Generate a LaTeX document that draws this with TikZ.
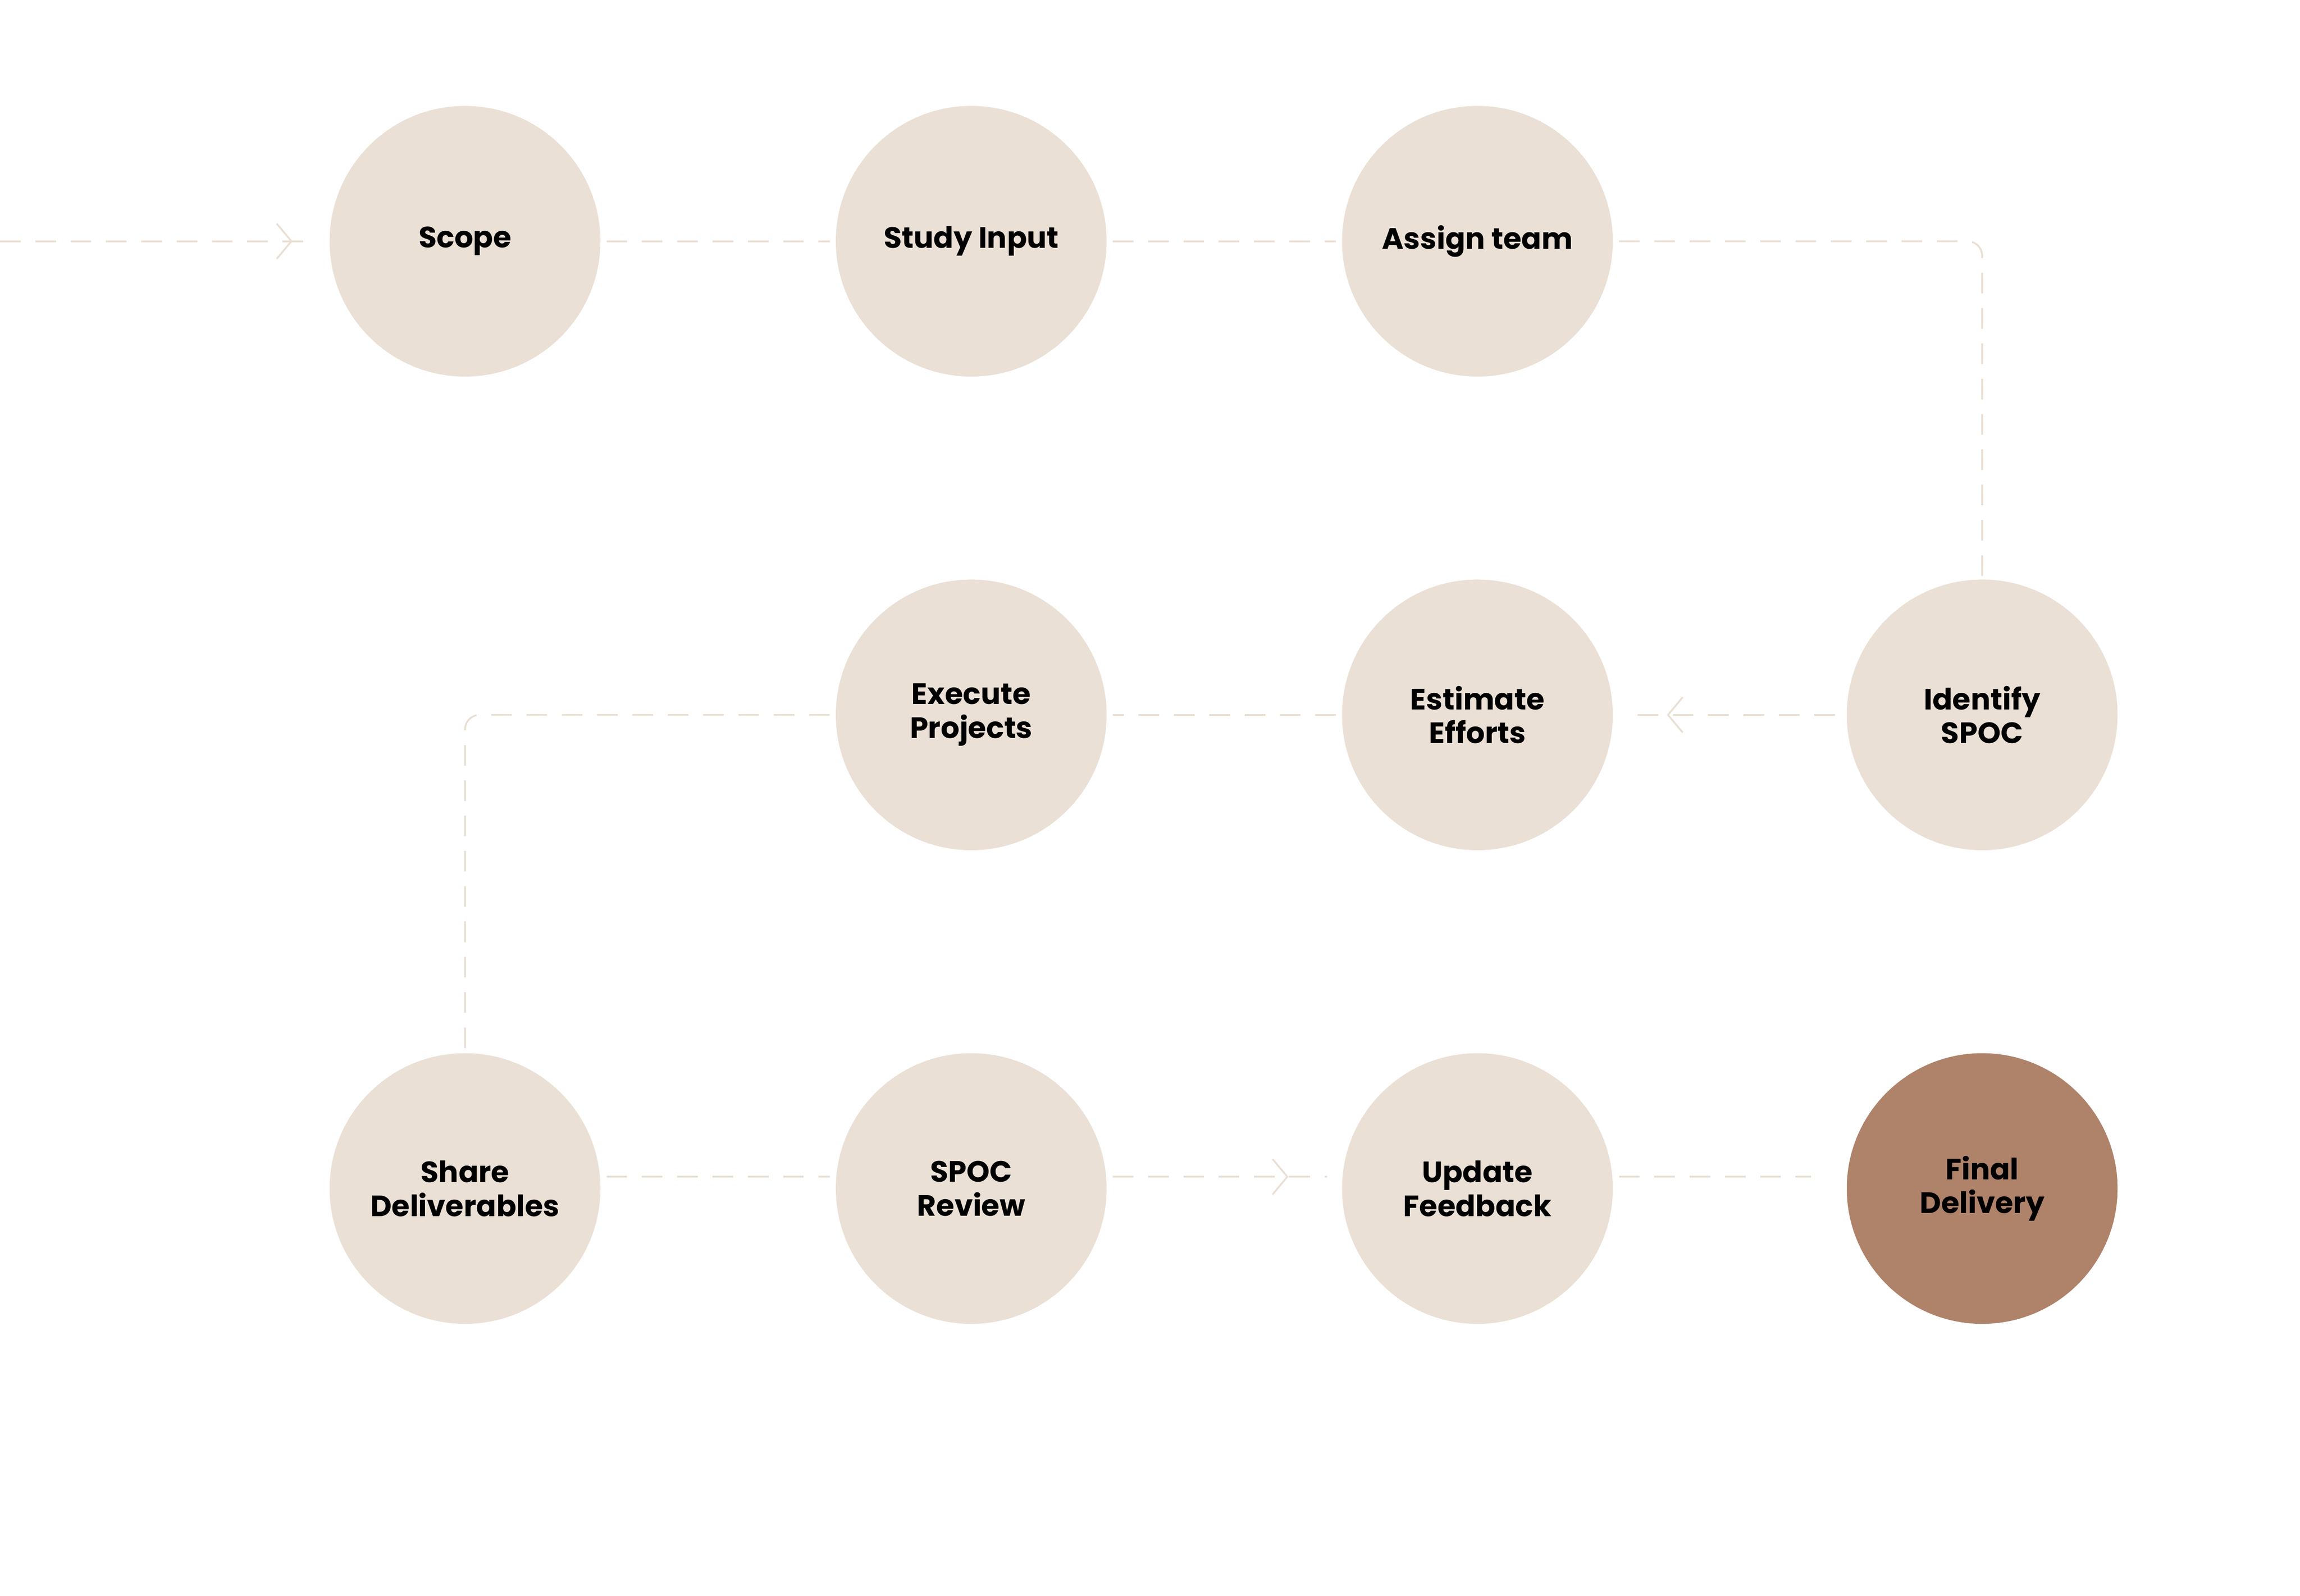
\documentclass[tikz,border=0pt]{standalone}
\usepackage{fontspec}
\setmainfont{Poppins}
\usetikzlibrary{arrows.meta,decorations.markings}
\definecolor{beige}{HTML}{EBE0D5}
\definecolor{brownc}{HTML}{AF826A}
\definecolor{linec}{HTML}{EADFD3}
\tikzset{
 stepnode/.style={circle,fill=beige,minimum size=184pt,inner sep=0pt,align=center,font=\fontsize{20}{23}\selectfont\bfseries},
 conn/.style={draw=linec,line width=1.2pt,dash pattern=on 14pt off 10pt},
 chev/.style={postaction={decorate},decoration={markings,mark=at position #1 with {\arrow[linec,line width=1.2pt]{Straight Barb[length=10pt,width=24pt]}}}}
}
\begin{document}
\begin{tikzpicture}[x=1pt,y=-1pt]
\useasboundingbox[fill=white] (0,0) rectangle (1563,1085);
\node[stepnode] (scope) at (316,164) {Scope};
\node[stepnode] (study) at (660,164) {Study Input};
\node[stepnode] (assign) at (1004,164) {Assign team};
\node[stepnode] (identify) at (1347,486) {Identify\\SPOC};
\node[stepnode] (estimate) at (1004,486) {Estimate\\Efforts};
\node[stepnode] (execute) at (660,486) {Execute\\Projects};
\node[stepnode] (share) at (316,808) {Share\\Deliverables};
\node[stepnode] (review) at (660,808) {SPOC\\Review};
\node[stepnode] (update) at (1004,808) {Update\\Feedback};
\node[stepnode,fill=brownc] (final) at (1347,808) {Final\\Delivery};
\coordinate (start) at (0,164);
\draw[conn,chev=0.93] (start) -- ([xshift=-10pt]scope.west);
\draw[conn] ([xshift=4pt]scope.east) -- ([xshift=-4pt]study.west);
\draw[conn] ([xshift=4pt]study.east) -- ([xshift=-4pt]assign.west);
\draw[conn,rounded corners=10pt] ([xshift=4pt]assign.east) -| ([yshift=-6pt]identify.north);
\draw[conn,chev=0.8] ([xshift=-8pt]identify.west) -- ([xshift=8pt]estimate.east);
\draw[conn] ([xshift=-4pt]estimate.west) -- ([xshift=4pt]execute.east);
\draw[conn,rounded corners=10pt] ([xshift=-4pt]execute.west) -| ([yshift=2pt]share.north);
\draw[conn] ([xshift=4pt,yshift=8pt]share.east) -- ([xshift=-4pt,yshift=8pt]review.west);
\draw[conn,chev=0.82] ([xshift=4pt,yshift=8pt]review.east) -- ([xshift=-10pt,yshift=8pt]update.west);
\draw[conn] ([xshift=4pt,yshift=8pt]update.east) -- ([xshift=-24pt,yshift=8pt]final.west);
\end{tikzpicture}
\end{document}
